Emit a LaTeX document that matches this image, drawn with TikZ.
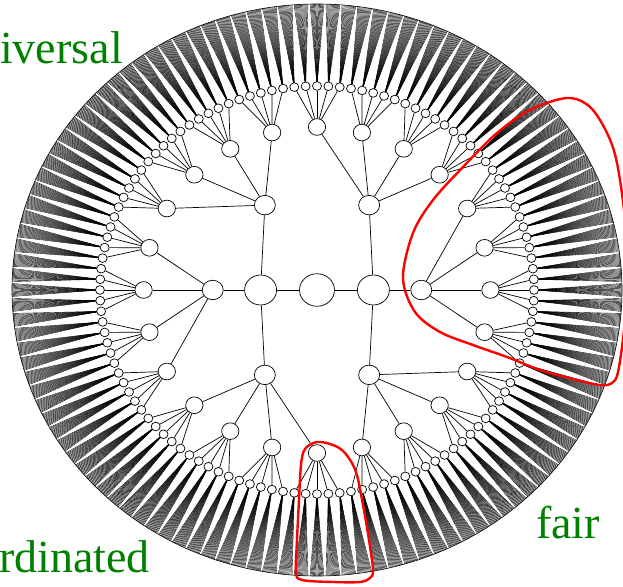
\documentclass[tikz,border=0pt]{standalone}
\usepackage{fontspec}
\setmainfont{Liberation Serif}
\usetikzlibrary{shapes.geometric}
\definecolor{tagGreen}{RGB}{0,128,0}

\begin{document}
\begin{tikzpicture}[x=1pt, y=1pt,
    vertex/.style={draw, ellipse, fill=white, inner sep=0pt, line width=0.7pt},
    lvl0/.style={vertex, minimum width=35pt, minimum height=32.5pt},
    lvl1/.style={vertex, minimum width=32pt, minimum height=30pt},
    lvl2/.style={vertex, minimum width=21pt, minimum height=19.5pt},
    lvl3/.style={vertex, minimum width=17.3pt, minimum height=16.7pt},
    lvl4/.style={vertex, minimum width=9pt, minimum height=8.7pt},
    edge/.style={line width=0.7pt},
    fan/.style={line width=0.4pt},
    blob/.style={red, line width=2.4pt},
    tag/.style={tagGreen, font=\fontsize{46}{50}\selectfont, inner sep=0pt}
]
    \useasboundingbox (-317,-296) rectangle (306,290);

    \draw[line width=0.6pt] (0,0) ellipse [x radius=305, y radius=286];

    \node[lvl0] (v0) at (0,0) {};
    \foreach \a [count=\i from 0] in {0, 180} {
        \node[lvl1] (v1-\i) at ({1.064*53*cos(\a)}, {53*sin(\a)}) {};
        \draw[edge] (v0) -- (v1-\i);
    }
    \foreach \j in {0,...,5} {
        \pgfmathtruncatemacro\p{mod(\j+1,6)/3}
        \node[lvl2] (v2-\j) at ({1.064*98*cos(60*\j)}, {98*sin(60*\j)}) {};
        \draw[edge] (v1-\p) -- (v2-\j);
    }
    \foreach \m in {0,...,23} {
        \pgfmathtruncatemacro\p{mod(floor((\m+1)/4),6)}
        \node[lvl3] (v3-\m) at ({1.064*163*cos(15*\m)}, {163*sin(15*\m)}) {};
        \draw[edge] (v2-\p) -- (v3-\m);
    }
    \foreach \n in {0,...,119} {
        \pgfmathtruncatemacro\p{mod(floor((\n+2)/5),24)}
        \node[lvl4] (v4-\n) at ({1.064*204*cos(3*\n)}, {204*sin(3*\n)}) {};
        \draw[edge] (v3-\p) -- (v4-\n);
    }

    % fans out to the rim
    \foreach \n in {0,...,119} {
        \foreach \k in {0,...,13} {
            \pgfmathsetmacro\t{3*\n - 1.3 + 0.2*\k}
            \path ({305*cos(\t)}, {286*sin(\t)}) coordinate (tip);
            \draw[fan] (v4-\n) -- (tip);
        }
    }

    \draw[blob] plot[smooth cycle, tension=0.55] coordinates {
        (86,12) (96,57) (116,90) (146,123) (180,157) (213,180) (250,192)
        (273,183) (290,157) (300,127) (308,70) (310,10) (307,-40) (301,-82)
        (295,-93) (283,-95) (256,-89) (223,-80) (190,-67) (156,-55) (123,-42) (98,-22)};
    \draw[blob] plot[smooth cycle, tension=0.55] coordinates {
        (0,-152) (16,-155) (28,-163) (39,-182) (46,-215) (52,-250) (56,-280)
        (53,-288) (43,-292) (16,-292) (-15,-290) (-21,-282) (-20,-250)
        (-18,-210) (-16,-175) (-12,-159)};

    \node[tag, anchor=base west] (universal) at (-317,226) {iversal};
    \node[tag, anchor=base west] (coordinated) at (-318,-282) {rdinated};
    \node[tag, anchor=base west] (fair) at (219,-248) {fair};
\end{tikzpicture}
\end{document}
